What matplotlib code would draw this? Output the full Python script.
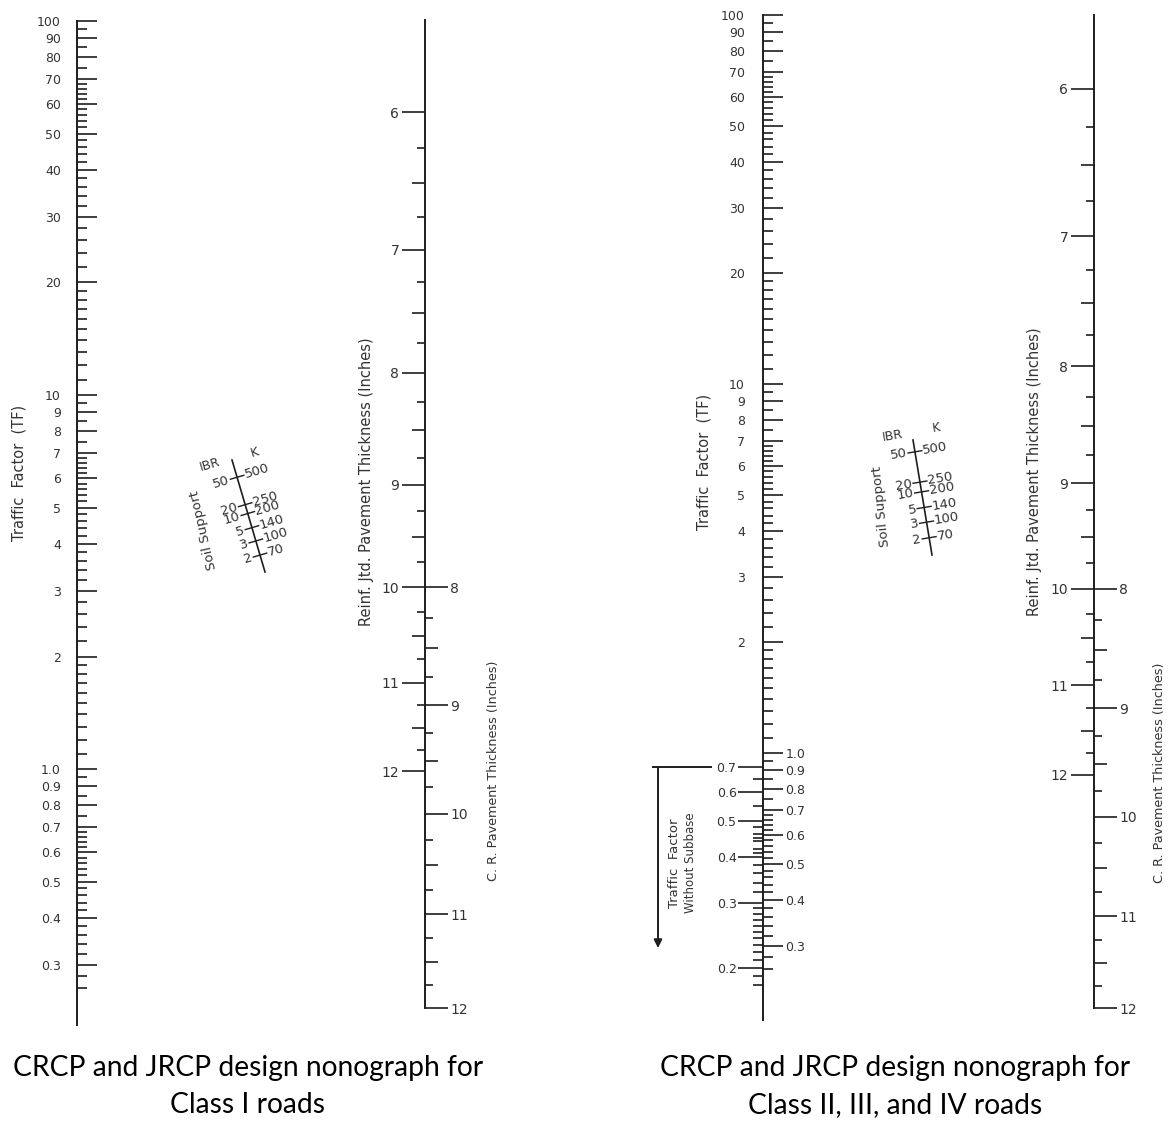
import numpy as np
import matplotlib.pyplot as plt
from matplotlib import transforms
from matplotlib.ticker import NullLocator, NullFormatter

tf_major = [100, 90, 80, 70, 60, 50, 40, 30, 20, 10, 9, 8, 7, 6, 5, 4, 3, 2]
tf_major_low = [1.0, 0.9, 0.8, 0.7, 0.6, 0.5, 0.4, 0.3]
tf_minor = [95, 85, 75, 68, 66, 64, 62, 58, 56, 54, 52, 48, 46, 44, 42,
            38, 36, 34, 32, 28, 26, 24, 22, 19, 18, 17, 16, 15, 14, 13, 12, 11,
            9.5, 8.5, 7.5, 6.8, 6.6, 6.4, 6.2, 5.8, 5.6, 5.4, 5.2,
            4.8, 4.6, 4.4, 4.2, 3.8, 3.6, 3.4, 3.2, 2.8, 2.6, 2.4, 2.2,
            1.9, 1.8, 1.7, 1.6, 1.5, 1.4, 1.3, 1.2, 1.1,
            0.95, 0.85, 0.75, 0.68, 0.66, 0.64, 0.62, 0.58, 0.56, 0.54, 0.52,
            0.48, 0.46, 0.44, 0.42, 0.38, 0.36, 0.34, 0.32, 0.28, 0.26]

# traffic factor without subbase (class II-IV chart)
ws_major = [0.7, 0.6, 0.5, 0.4, 0.3, 0.2]
ws_minor = [0.65, 0.55, 0.48, 0.46, 0.45, 0.44, 0.42, 0.41,
            0.38, 0.36, 0.34, 0.32, 0.29, 0.28, 0.27, 0.26, 0.25, 0.24, 0.23,
            0.22, 0.21, 0.19, 0.18]
ws_shift = 1.31          # TF value sitting level with a without-subbase value

jtd_major = [6, 7, 8, 9, 10, 11, 12]
jtd_half = [6.5, 7.5, 8.5, 9.5, 10.5, 11.5]
jtd_quarter = [6.25, 6.75, 7.25, 7.75, 8.25, 8.75, 9.25, 9.75,
               10.25, 10.75, 11.25, 11.75]
cr_major = [8, 9, 10, 11, 12]
cr_half = [8.5, 9.5, 10.5, 11.5]
cr_quarter = [8.25, 8.75, 9.25, 9.75, 10.25, 10.75, 11.25, 11.75]
cr_ratio = 0.8           # C.R. thickness = 0.8 x reinf. jointed thickness

soil_ibr = [50, 20, 10, 5, 3, 2]
soil_k = [500, 250, 200, 140, 100, 70]

W, H = 1170, 1130
INK = '#1e1e1e'
TXT = '#333333'
LW = 1.4
TW = 1.2

fig = plt.figure(figsize=(W / 100, H / 100), dpi=100)

# overlay in pixel units for free text / soil support scales
ov = fig.add_axes([0, 0, 1, 1])
ov.set_xlim(0, W)
ov.set_ylim(H, 0)
ov.axis('off')


def scale_ax(x, top, bottom):
    ax = fig.add_axes([x / W, 1 - bottom / H, 0.3 / W, (bottom - top) / H])
    ax.patch.set_visible(False)
    ax.set_xticks([])
    for s in ax.spines.values():
        s.set_visible(False)
        s.set_color(INK)
        s.set_linewidth(LW)
    return ax


def power_scale(p, k=1.0):
    return (lambda v: np.power(np.abs(v) / k, p),
            lambda t: k * np.power(np.abs(t), 1.0 / p))


def ticks(ax, side, major, length, labels=None, minor=None, minor_len=0,
          direction='out', pad=2, size=9, spine=False):
    ax.set_yticks(major)
    if labels is not None:
        ax.set_yticklabels(labels)
    if minor:
        ax.set_yticks(minor, minor=True)
    else:
        ax.yaxis.set_minor_locator(NullLocator())
    ax.yaxis.set_minor_formatter(NullFormatter())
    left = side == 'left'
    show = labels is not None
    ax.tick_params(axis='y', which='both', left=left, right=not left,
                   labelleft=left and show, labelright=(not left) and show,
                   direction=direction, width=TW, color=INK)
    ax.tick_params(axis='y', which='major', length=length, pad=pad,
                   labelsize=size, labelcolor=TXT)
    ax.tick_params(axis='y', which='minor', length=minor_len)
    if spine:
        ax.spines[side].set_visible(True)


def tf_label(v):
    return f'{v:.1f}' if v < 2 else f'{v:g}'


def thickness(x, top, bottom, p, top_val):
    a = scale_ax(x, top, bottom)
    a.set_yscale('function', functions=power_scale(p))
    a.set_ylim(15, top_val)
    ticks(a, 'left', jtd_major, 16.5, [str(v) for v in jtd_major],
          jtd_half, 9.4, size=10, spine=True)
    b = scale_ax(x, top, bottom)
    b.set_yscale('function', functions=power_scale(p))
    b.set_ylim(15, top_val)
    ticks(b, 'left', jtd_quarter, 5.8)
    c = scale_ax(x, top, bottom)
    c.set_yscale('function', functions=power_scale(p, cr_ratio))
    c.set_ylim(15 * cr_ratio, top_val * cr_ratio)
    ticks(c, 'right', cr_major, 16.5, [str(v) for v in cr_major],
          cr_half, 9.4, pad=1.5, size=10)
    d = scale_ax(x, top, bottom)
    d.set_yscale('function', functions=power_scale(p, cr_ratio))
    d.set_ylim(15 * cr_ratio, top_val * cr_ratio)
    ticks(d, 'right', cr_quarter, 5.8)


def soil(p0, p1, d_top, per_decade, ibr_xy, k_xy, ss_xy, ss_rot):
    p0 = np.array(p0, float)
    p1 = np.array(p1, float)
    u = (p1 - p0) / np.hypot(*(p1 - p0))
    n = np.array([u[1], -u[0]])
    rot = np.degrees(np.arctan2(u[0], u[1]))
    ov.plot([p0[0], p1[0]], [p0[1], p1[1]], color=INK, lw=1.2)
    dist = d_top + (np.log10(soil_k[0]) - np.log10(soil_k)) * per_decade
    for ibr, k, di in zip(soil_ibr, soil_k, dist):
        c = p0 + u * di
        a, b = c - n * 7, c + n * 7
        ov.plot([a[0], b[0]], [a[1], b[1]], color=INK, lw=1.0)
        la, lb = c - n * 8, c + n * 8
        ov.text(la[0], la[1], str(ibr), rotation=rot, ha='right', va='center',
                rotation_mode='anchor', fontsize=9.5, color=TXT)
        ov.text(lb[0], lb[1], str(k), rotation=rot, ha='left', va='center',
                rotation_mode='anchor', fontsize=9.5, color=TXT)
    ov.text(*ibr_xy, 'IBR', rotation=rot, ha='center', va='center',
            fontsize=9, color=TXT)
    ov.text(*k_xy, 'K', rotation=rot, ha='center', va='center',
            fontsize=9, color=TXT)
    ov.text(*ss_xy, 'Soil Support', rotation=ss_rot, ha='center', va='center',
            fontsize=9.5, color=TXT)


def vlabel(x, y, s, size=9.5):
    ov.text(x, y, s, rotation=90, ha='center', va='center', fontsize=size,
            color=TXT)


# ================= Class I chart =================
tf1 = scale_ax(77, 21, 1025)
tf1.set_yscale('log')
tf1.set_ylim(0.207, 100)
ticks(tf1, 'left', tf_major + tf_major_low, 14.4,
      [tf_label(v) for v in tf_major + tf_major_low],
      tf_minor, 7.2, direction='in', pad=11.5, spine=True)
vlabel(19, 473, 'Traffic  Factor  (TF)', size=10.5)

thickness(425, 20, 1008, 0.24, 5.39)
vlabel(367, 482, 'Reinf. Jtd. Pavement Thickness (Inches)', size=10.5)
vlabel(493, 771, 'C. R. Pavement Thickness (Inches)', size=9.2)

soil((232, 460), (265, 572), 18, 95, (210, 465), (255, 452), (204, 530), 103)

# ================= Class II, III, IV chart =================
tf2 = scale_ax(763, 15, 1020)
tf2.set_yscale('log')
tf2.set_ylim(0.189, 100)
ticks(tf2, 'left', tf_major, 14.4, [tf_label(v) for v in tf_major],
      tf_minor, 7.2, direction='in', pad=13, spine=True)

tf2b = scale_ax(763, 15, 1020)
tf2b.set_yscale('log')
tf2b.set_ylim(0.189, 100)
ticks(tf2b, 'right', tf_major_low, 14.4, [tf_label(v) for v in tf_major_low],
      pad=1.5)

ws = scale_ax(763, 15, 1020)
ws.set_yscale('log')
ws.set_ylim(0.189 / ws_shift, 100 / ws_shift)
ticks(ws, 'left', ws_major, 18, [f'{v:.1f}' for v in ws_major],
      ws_minor, 7.2, pad=1)
vlabel(704, 462, 'Traffic  Factor  (TF)', size=10.5)

blend = transforms.blended_transform_factory(ov.transData, ws.transData)
ov.plot([652, 712], [ws_major[0], ws_major[0]], transform=blend, color=INK,
        lw=LW, solid_capstyle='butt')
ov.annotate('', xy=(658, 0.226), xytext=(658, ws_major[0]), xycoords=blend,
            textcoords=blend,
            arrowprops=dict(arrowstyle='-|>', color=INK, lw=LW,
                            mutation_scale=12, shrinkA=0, shrinkB=0))
vlabel(675, 863, 'Traffic  Factor', size=9.5)
vlabel(690, 863, 'Without Subbase', size=8.5)

thickness(1094, 15, 1008, 0.12, 5.55)
vlabel(1035, 472, 'Reinf. Jtd. Pavement Thickness (Inches)', size=10.5)
vlabel(1160, 773, 'C. R. Pavement Thickness (Inches)', size=9.2)

soil((913, 440), (932, 555), 12, 102, (893, 436), (936, 428), (881, 506), 96)

# ================= captions =================
cap = dict(ha='center', va='center', fontsize=20.3, family='Lato', color='black')
ov.text(248, 1068, 'CRCP and JRCP design nonograph for', **cap)
ov.text(248, 1105, 'Class I roads', **cap)
ov.text(895, 1068, 'CRCP and JRCP design nonograph for', **cap)
ov.text(895, 1105, 'Class II, III, and IV roads', **cap)

fig.savefig('out.png', dpi=100)
